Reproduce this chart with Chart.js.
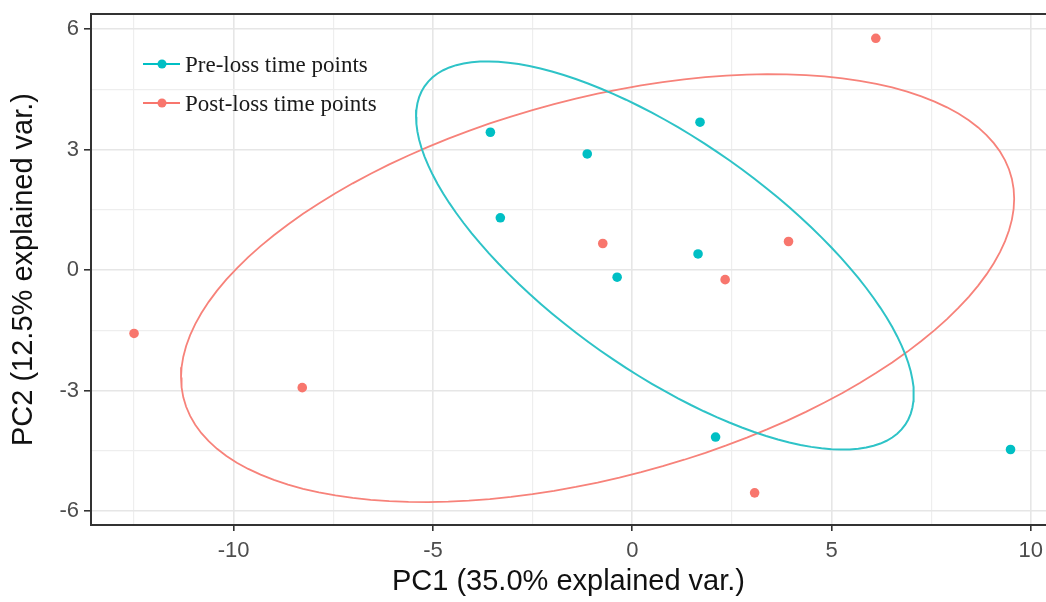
<!DOCTYPE html>
<html>
<head>
<meta charset="utf-8">
<script src="https://cdn.jsdelivr.net/npm/chart.js@4"></script>
<style>
  html, body { margin: 0; padding: 0; background: #fff; }
  #wrap { width: 1046px; height: 602px; }
</style>
</head>
<body>
<div id="wrap"><canvas id="pca" width="1046" height="602"></canvas></div>
<script>
// PCA scores
const groups = ['Pre-loss time points', 'Post-loss time points'];
const preX = [-3.56, -1.13, 1.70, -3.31, 1.65, -0.38, 2.09, 9.49];
const preY = [3.43, 2.89, 3.68, 1.30, 0.40, -0.18, -4.16, -4.47];
const postX = [6.11, -0.74, 3.92, 2.33, 3.07, -12.50, -8.28];
const postY = [5.77, 0.66, 0.71, -0.24, -5.55, -1.58, -2.93];

const xTicks = [-10, -5, 0, 5, 10];
const xTickLabels = ['-10', '-5', '0', '5', '10'];
const xMinor = [-12.5, -7.5, -2.5, 2.5, 7.5];
const yTicks = [-6, -3, 0, 3, 6];
const yTickLabels = ['-6', '-3', '0', '3', '6'];
const yMinor = [-4.5, -1.5, 1.5, 4.5];

const teal = '#00BFC4';
const salmon = '#F8766D';

function pts(xs, ys) { return xs.map((x, i) => ({x: x, y: ys[i]})); }

// normal data ellipse, like ggbiplot (prob 0.68)
function ellipse(xs, ys) {
  const n = xs.length;
  const mx = xs.reduce((a, b) => a + b, 0) / n;
  const my = ys.reduce((a, b) => a + b, 0) / n;
  let sxx = 0, syy = 0, sxy = 0;
  for (let i = 0; i < n; i++) {
    sxx += (xs[i] - mx) ** 2;
    syy += (ys[i] - my) ** 2;
    sxy += (xs[i] - mx) * (ys[i] - my);
  }
  sxx /= n - 1; syy /= n - 1; sxy /= n - 1;
  const r11 = Math.sqrt(sxx), r12 = sxy / r11, r22 = Math.sqrt(syy - r12 * r12);
  const ed = Math.sqrt(-2 * Math.log(1 - 0.68));
  const out = [];
  for (let k = 0; k <= 120; k++) {
    const t = -Math.PI + 2 * Math.PI * k / 120;
    const c = Math.cos(t), s = Math.sin(t);
    out.push({x: mx + ed * c * r11, y: my + ed * (c * r12 + s * r22)});
  }
  return out;
}

function buildTicks(major, minor) {
  return major.concat(minor).sort((a, b) => a - b).map(v => ({value: v}));
}

const frameAndLegend = {
  id: 'frameAndLegend',
  afterDraw(chart) {
    const ctx = chart.ctx, a = chart.chartArea;
    ctx.save();
    ctx.strokeStyle = '#333';
    ctx.lineWidth = 2;
    ctx.beginPath();
    ctx.moveTo(a.left - 1, a.top);
    ctx.lineTo(a.right, a.top);
    ctx.stroke();

    const items = chart.data.datasets.filter(d => d.inLegend);
    ctx.font = '23px "Liberation Serif", "Times New Roman", serif';
    ctx.textBaseline = 'alphabetic';
    items.forEach((d, i) => {
      const y = a.top + 50 + i * 39;
      ctx.strokeStyle = d.backgroundColor;
      ctx.lineWidth = 2;
      ctx.beginPath();
      ctx.moveTo(a.left + 52, y);
      ctx.lineTo(a.left + 89, y);
      ctx.stroke();
      ctx.fillStyle = d.backgroundColor;
      ctx.beginPath();
      ctx.arc(a.left + 71, y, 4.5, 0, Math.PI * 2);
      ctx.fill();
      ctx.fillStyle = '#1a1a1a';
      ctx.fillText(d.label, a.left + 94, y + 8);
    });
    ctx.restore();
  }
};

const isMajor = (list, v) => list.indexOf(v) >= 0;

new Chart(document.getElementById('pca'), {
  type: 'scatter',
  data: {
    datasets: [
      {label: groups[0], inLegend: true, data: pts(preX, preY), backgroundColor: teal, borderColor: teal, pointRadius: 4.8, pointHoverRadius: 4.8, borderWidth: 0, order: 1},
      {label: groups[1], inLegend: true, data: pts(postX, postY), backgroundColor: salmon, borderColor: salmon, pointRadius: 4.8, pointHoverRadius: 4.8, borderWidth: 0, order: 1},
      {label: groups[0] + ' ellipse', data: ellipse(preX, preY), showLine: true, pointRadius: 0, borderColor: '#2ec3c7', borderWidth: 2, fill: false, order: 2},
      {label: groups[1] + ' ellipse', data: ellipse(postX, postY), showLine: true, pointRadius: 0, borderColor: '#f7827a', borderWidth: 1.8, fill: false, order: 2}
    ]
  },
  options: {
    responsive: false,
    animation: false,
    devicePixelRatio: 1,
    layout: {autoPadding: false, padding: {top: 14, right: 0, bottom: 0, left: 0}},
    plugins: {legend: {display: false}, tooltip: {enabled: false}},
    scales: {
      x: {
        type: 'linear',
        min: -13.58,
        max: 10.38,
        afterBuildTicks: s => { s.ticks = buildTicks(xTicks, xMinor); },
        afterFit: s => { s.height = 77; s.paddingLeft = 0; s.paddingRight = 0; },
        border: {display: true, color: '#333', width: 2},
        grid: {
          color: c => isMajor(xTicks, c.tick.value) ? '#e6e6e6' : '#eeeeee',
          lineWidth: c => isMajor(xTicks, c.tick.value) ? 1.6 : 1.2,
          tickColor: c => isMajor(xTicks, c.tick.value) ? '#333' : 'rgba(0,0,0,0)',
          tickLength: 6
        },
        ticks: {
          autoSkip: false,
          maxRotation: 0,
          padding: 7,
          color: '#4d4d4d',
          font: {family: '"Liberation Sans", Arial, sans-serif', size: 22},
          callback: v => { const i = xTicks.indexOf(v); return i >= 0 ? xTickLabels[i] : ''; }
        },
        title: {
          display: true,
          text: 'PC1 (35.0% explained var.)',
          color: '#111',
          font: {family: '"Liberation Sans", Arial, sans-serif', size: 29},
          padding: {top: 0, bottom: 3}
        }
      },
      y: {
        type: 'linear',
        min: -6.35,
        max: 6.375,
        afterBuildTicks: s => { s.ticks = buildTicks(yTicks, yMinor); },
        afterFit: s => { s.width = 91; s.paddingTop = 0; s.paddingBottom = 0; },
        border: {display: true, color: '#333', width: 2},
        grid: {
          color: c => isMajor(yTicks, c.tick.value) ? '#e6e6e6' : '#eeeeee',
          lineWidth: c => isMajor(yTicks, c.tick.value) ? 1.6 : 1.2,
          tickColor: c => isMajor(yTicks, c.tick.value) ? '#333' : 'rgba(0,0,0,0)',
          tickLength: 7
        },
        ticks: {
          autoSkip: false,
          padding: 5,
          color: '#4d4d4d',
          font: {family: '"Liberation Sans", Arial, sans-serif', size: 22},
          callback: v => { const i = yTicks.indexOf(v); return i >= 0 ? yTickLabels[i] : ''; }
        },
        title: {
          display: true,
          text: 'PC2 (12.5% explained var.)',
          color: '#111',
          font: {family: '"Liberation Sans", Arial, sans-serif', size: 29},
          padding: {top: 7, bottom: 0}
        }
      }
    }
  },
  plugins: [frameAndLegend]
});
</script>
</body>
</html>
